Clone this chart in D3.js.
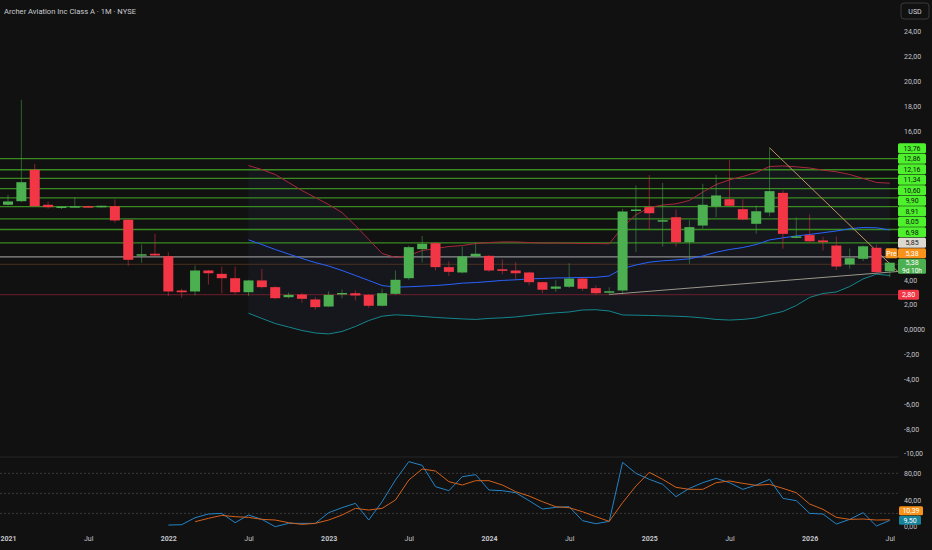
<!DOCTYPE html>
<html>
<head>
<meta charset="utf-8">
<script src="https://cdn.jsdelivr.net/npm/d3@7"></script>
<style>
  html, body { margin: 0; padding: 0; background: #111111; }
  svg { display: block; font-family: Roboto, "Noto Sans", sans-serif; }
</style>
</head>
<body>
<svg id="chart" width="932" height="550"></svg>
<script>
// monthly candles Jan 2021 .. Jul 2026 : [open, high, low, close]
const candles = [
  [10.04, 10.85, 9.98, 10.31], [10.33, 18.5, 10.25, 11.86], [12.86, 13.34, 9.88, 9.93], [10.04, 10.30, 9.72, 9.85],
  [9.87, 9.95, 9.70, 9.90], [9.88, 10.65, 9.85, 9.93], [9.93, 9.98, 9.82, 9.86], [9.88, 9.98, 9.82, 9.96],
  [9.93, 10.47, 8.60, 8.78], [8.83, 8.90, 5.13, 5.61], [5.98, 6.84, 5.37, 6.06], [6.10, 7.70, 5.90, 5.96],
  [5.90, 6.22, 2.68, 3.06], [3.14, 3.28, 2.55, 3.00], [3.06, 5.15, 2.74, 4.75], [4.75, 4.80, 3.62, 4.53],
  [4.48, 5.07, 2.92, 4.13], [4.13, 5.07, 2.82, 3.00], [3.00, 4.00, 2.70, 3.95], [3.95, 4.89, 3.30, 3.41],
  [3.41, 3.50, 2.45, 2.52], [2.60, 2.98, 2.50, 2.79], [2.82, 2.95, 2.15, 2.47], [2.42, 2.60, 1.59, 1.80],
  [1.85, 3.08, 1.80, 2.79], [2.90, 3.22, 2.52, 2.94], [2.92, 3.14, 2.34, 2.74], [2.79, 2.85, 1.75, 1.91],
  [1.91, 3.28, 1.85, 2.92], [2.87, 4.75, 2.80, 4.00], [4.13, 6.76, 4.00, 6.63], [6.47, 7.52, 5.40, 6.90],
  [6.95, 7.05, 4.75, 5.02], [5.02, 5.50, 4.30, 4.64], [4.59, 6.68, 4.50, 5.88], [5.88, 6.95, 5.80, 6.10],
  [5.93, 6.00, 4.65, 4.75], [4.85, 5.65, 4.45, 4.72], [4.75, 5.42, 4.00, 4.53], [4.59, 4.65, 3.55, 3.81],
  [3.81, 3.85, 2.92, 3.20], [3.28, 3.97, 3.03, 3.46], [3.44, 5.34, 3.35, 4.10], [4.10, 4.20, 3.10, 3.28],
  [3.33, 3.55, 2.82, 2.92], [2.98, 3.40, 2.82, 3.08], [3.14, 9.72, 2.82, 9.50], [9.58, 11.60, 6.22, 9.66],
  [9.85, 12.44, 8.00, 9.36], [8.75, 11.80, 6.67, 8.80], [9.04, 9.66, 6.67, 7.03], [7.03, 8.80, 5.28, 8.24],
  [8.37, 11.73, 8.10, 10.04], [9.90, 12.45, 9.04, 10.79], [10.49, 13.66, 9.90, 9.96], [9.69, 10.49, 8.80, 8.86],
  [8.51, 9.98, 7.70, 9.52], [9.42, 14.63, 9.10, 11.14], [11.00, 11.20, 6.50, 7.70], [7.45, 9.02, 7.33, 7.50],
  [7.60, 9.26, 7.03, 7.10], [7.17, 7.47, 6.36, 7.03], [6.76, 7.47, 4.79, 5.07], [5.23, 6.52, 4.90, 5.74],
  [5.69, 6.76, 5.50, 6.70], [6.58, 6.84, 4.50, 4.62], [4.69, 5.35, 4.20, 5.38]
];

// Bollinger bands, from Jul 2022 (month 18)
const bbStart = 18;
const bbUpper = [13.20, 12.88, 12.48, 11.84, 11.19, 10.63, 10.06, 9.42, 8.37, 7.25, 6.12, 5.80, 5.96, 6.36,
  6.52, 6.68, 6.76, 6.92, 7.00, 7.05, 7.05, 7.00, 6.96, 6.96, 6.95, 6.92, 6.92, 6.90, 8.24, 9.24, 9.82,
  10.02, 10.12, 10.39, 11.06, 11.67, 12.05, 12.32, 12.64, 13.12, 13.17, 13.10, 13.00, 12.83, 12.70, 12.48,
  12.16, 11.84, 11.78];
const bbBasis = [7.22, 6.84, 6.44, 6.08, 5.72, 5.39, 5.11, 4.75, 4.35, 3.95, 3.54, 3.41, 3.44, 3.49, 3.54,
  3.62, 3.73, 3.78, 3.86, 3.95, 4.00, 4.07, 4.11, 4.15, 4.16, 4.19, 4.20, 4.31, 4.91, 5.19, 5.42, 5.53, 5.60,
  5.69, 5.92, 6.22, 6.44, 6.60, 6.84, 7.21, 7.38, 7.53, 7.65, 7.79, 7.93, 8.11, 8.21, 8.19, 8.01];
const bbLower = [1.31, 0.89, 0.48, 0.20, -0.08, -0.28, -0.36, -0.16, 0.24, 0.72, 1.07, 1.18, 1.13, 1.05,
  0.97, 0.91, 0.85, 0.81, 0.89, 0.94, 1.01, 1.13, 1.25, 1.34, 1.41, 1.57, 1.59, 1.49, 1.17, 1.15, 1.13, 1.10,
  1.07, 1.02, 0.93, 0.81, 0.76, 0.81, 0.93, 1.21, 1.45, 1.93, 2.58, 2.90, 3.02, 3.46, 4.07, 4.45, 4.35];

// Stoch RSI
const kStart = 12;
const stochK = [2.5, 3, 13.5, 19, 20, 6, 17.5, 11, 0, 5, 5, 5, 21, 28.5, 35, 10, 37.5, 70, 97.5, 92, 60, 54,
  75, 78, 55, 54, 51, 39, 26.5, 29, 30, 9, 4.5, 8, 96.5, 80, 71, 63.5, 45, 57.5, 66, 72.5, 66, 56, 62.5, 71,
  42.5, 39, 20, 19, 4, 11, 21, 1, 9.5];
const dStart = 14;
const stochD = [7.5, 12.5, 17, 15, 14, 11, 10, 6, 3.5, 5, 10, 17.5, 27.5, 25, 27.5, 40, 70, 86.5, 83.5, 67.5,
  62.5, 69, 69, 62.5, 52.5, 46, 37.5, 30, 28.5, 22.5, 15, 8, 36, 61, 81.5, 71, 59, 56, 56, 66, 68.5, 65, 62,
  63.5, 57.5, 51, 34, 26, 14, 11, 11.5, 10, 10.39];

// horizontal levels
const greenLevels = [13.76, 12.86, 12.16, 11.34, 10.60, 9.90, 8.91, 8.05, 6.98];
const grayLevel = 5.85;
const preLevel = 5.25;
const redLevel = 2.80;
const lastPrice = 5.38;
const stochTags = [10.39, 9.50];

// trendlines [month, price]
const trendDown = [[57, 14.63], [66.6, 4.67]];
const trendUp = [[45, 2.82], [66.6, 4.67]];

// axis ticks (14..6 sit under the level tags)
const priceTicks = [24, 22, 20, 18, 16, 4, 2, 0, -2, -4, -6, -8, -10];
const stochTicks = [80, 40, 0];
const stochBands = [80, 50, 20];
const xTicks = [0, 6, 12, 18, 24, 30, 36, 42, 48, 54, 60, 66];
const xTickLabels = ['2021', 'Jul', '2022', 'Jul', '2023', 'Jul', '2024', 'Jul', '2025', 'Jul', '2026', 'Jul'];

const svg = d3.select('#chart');
const W = 932, plotRight = 898;
const fmt = v => v === 0 ? '0,0000' : v.toFixed(2).replace('.', ',');

const x = d3.scaleLinear().domain([0, 66]).range([8, 889.8]);
const y = d3.scaleLinear().domain([-10, 24]).range([453.7, 31.4]);
const ys = d3.scaleLinear().domain([0, 100]).range([526.7, 460]);

svg.append('rect').attr('width', W).attr('height', 550).attr('fill', '#111111');

// title
svg.append('text').attr('x', 4).attr('y', 14).attr('fill', '#c9cbd0')
  .style('font-size', '7.6px').text('Archer Aviation Inc Class A · 1M · NYSE');

// Bollinger fill
const bbIdx = d3.range(bbUpper.length);
svg.append('path').datum(bbIdx)
  .attr('fill', 'rgba(80,120,180,0.07)')
  .attr('d', d3.area().x(i => x(i + bbStart)).y0(i => y(bbLower[i])).y1(i => y(bbUpper[i])));

// horizontal levels
const hline = (v, color, w) => svg.append('line').attr('x1', 0).attr('x2', plotRight)
  .attr('y1', y(v)).attr('y2', y(v)).attr('stroke', color).attr('stroke-width', w);
greenLevels.forEach(v => hline(v, '#3a8a22', 1.3));
hline(grayLevel, '#8e8e8e', 1.3);
hline(preLevel, '#4a3020', 1);
hline(redLevel, '#6e1f2c', 1);

// band lines
const bandLine = (arr, color) => svg.append('path').datum(bbIdx).attr('fill', 'none')
  .attr('stroke', color).attr('stroke-width', 1)
  .attr('d', d3.line().x(i => x(i + bbStart)).y(i => y(arr[i])));
bandLine(bbUpper, '#a8283a');
bandLine(bbBasis, '#2962ff');
bandLine(bbLower, '#14868c');

// trendlines
const tl = d3.line().x(d => x(d[0])).y(d => y(d[1]));
svg.append('path').datum(trendDown).attr('d', tl).attr('stroke', '#c09660').attr('stroke-width', 1).attr('fill', 'none');
svg.append('path').datum(trendUp).attr('d', tl).attr('stroke', '#9b968a').attr('stroke-width', 1).attr('fill', 'none');

// candles
const up = '#4caf50', dn = '#f23645';
const cg = svg.append('g');
cg.selectAll('line.wick').data(candles).join('line')
  .attr('x1', (d, i) => x(i)).attr('x2', (d, i) => x(i))
  .attr('y1', d => y(d[1])).attr('y2', d => y(d[2]))
  .attr('stroke', d => d[3] >= d[0] ? up : dn).attr('stroke-opacity', 0.5).attr('stroke-width', 1);
cg.selectAll('rect.body').data(candles).join('rect')
  .attr('x', (d, i) => x(i) - 5).attr('width', 10)
  .attr('y', d => y(Math.max(d[0], d[3])))
  .attr('height', d => Math.max(1.5, Math.abs(y(d[0]) - y(d[3]))))
  .attr('fill', d => d[3] >= d[0] ? up : dn);

// price axis
const pa = svg.append('g').attr('transform', `translate(902,0)`)
  .call(d3.axisRight(y).tickValues(priceTicks).tickFormat(fmt).tickSize(0).tickPadding(2));
pa.select('.domain').remove();
pa.selectAll('text').attr('fill', '#c3c5ca').style('font-size', '7px').style('font-family', 'Roboto, sans-serif');

// USD box
svg.append('rect').attr('x', 901).attr('y', 3).attr('width', 28).attr('height', 16).attr('rx', 3)
  .attr('fill', 'none').attr('stroke', '#3a3a3a');
svg.append('text').attr('x', 915).attr('y', 13.5).attr('text-anchor', 'middle')
  .attr('fill', '#d1d4dc').style('font-size', '7px').text('USD');

// price tags (stacked bottom-up)
const tag = (yc, fill, txt, col, w = 28, x0 = 898, h = 10) => {
  svg.append('rect').attr('x', x0).attr('y', yc - h / 2).attr('width', w).attr('height', h)
    .attr('rx', 1.5).attr('fill', fill);
  svg.append('text').attr('x', x0 + w / 2).attr('y', yc + 2.5).attr('text-anchor', 'middle')
    .attr('fill', col).style('font-size', '7px').text(txt);
};
const yLast = y(lastPrice);
svg.append('rect').attr('x', 898).attr('y', yLast - 4).attr('width', 28).attr('height', 15)
  .attr('rx', 1.5).attr('fill', up);
svg.append('text').attr('x', 912).attr('y', yLast + 2.5).attr('text-anchor', 'middle')
  .attr('fill', '#ffffff').style('font-size', '7px').text(fmt(lastPrice));
svg.append('text').attr('x', 912).attr('y', yLast + 10.5).attr('text-anchor', 'middle')
  .attr('fill', '#ffffff').style('font-size', '6.5px').text('9d 10h');

let c = yLast - 4 - 5.3;
tag(c, '#f7931a', fmt(lastPrice), '#ffffff');
tag(c, '#f7931a', 'Pre', '#ffffff', 12, 885.5);
c = Math.min(y(grayLevel), c - 10.5);
tag(c, '#ddd8d0', fmt(grayLevel), '#222222');
greenLevels.slice().sort((a, b) => a - b).forEach(v => {
  c = Math.min(y(v), c - 10.5);
  tag(c, '#4df22c', fmt(v), '#102010');
});
tag(y(redLevel), dn, fmt(redLevel), '#ffffff', 21);

// lower pane
svg.append('line').attr('x1', 0).attr('x2', plotRight).attr('y1', 457).attr('y2', 457)
  .attr('stroke', '#262626');
stochBands.forEach(v => svg.append('line').attr('x1', 0).attr('x2', plotRight)
  .attr('y1', ys(v)).attr('y2', ys(v)).attr('stroke', '#3c3c3c').attr('stroke-dasharray', '2,2'));

const kLine = d3.line().x((d, i) => x(i + kStart)).y(d => ys(d));
const dLine = d3.line().x((d, i) => x(i + dStart)).y(d => ys(d));
svg.append('path').datum(stochK).attr('d', kLine).attr('fill', 'none').attr('stroke', '#2383c7').attr('stroke-width', 1);
svg.append('path').datum(stochD).attr('d', dLine).attr('fill', 'none').attr('stroke', '#d3601b').attr('stroke-width', 1);

const sa = svg.append('g').attr('transform', `translate(902,0)`)
  .call(d3.axisRight(ys).tickValues(stochTicks).tickFormat(v => v.toFixed(2).replace('.', ',')).tickSize(0).tickPadding(2));
sa.select('.domain').remove();
sa.selectAll('text').attr('fill', '#c3c5ca').style('font-size', '7px').style('font-family', 'Roboto, sans-serif');

tag(ys(stochTags[1]), '#17839a', fmt(stochTags[1]), '#ffffff', 22, 899, 9);
tag(ys(stochTags[1]) - 9.6, '#f7931a', fmt(stochTags[0]), '#ffffff', 24, 899, 9);

// time axis
const xa = svg.append('g').attr('transform', 'translate(0,534)')
  .call(d3.axisBottom(x).tickValues(xTicks).tickFormat((d, i) => xTickLabels[i]).tickSize(0).tickPadding(2));
xa.select('.domain').remove();
xa.selectAll('text').attr('fill', '#c3c5ca').style('font-size', '7px').style('font-family', 'Roboto, sans-serif')
  .style('font-weight', (d, i) => xTickLabels[i] === 'Jul' ? 'normal' : 'bold');
</script>
</body>
</html>
